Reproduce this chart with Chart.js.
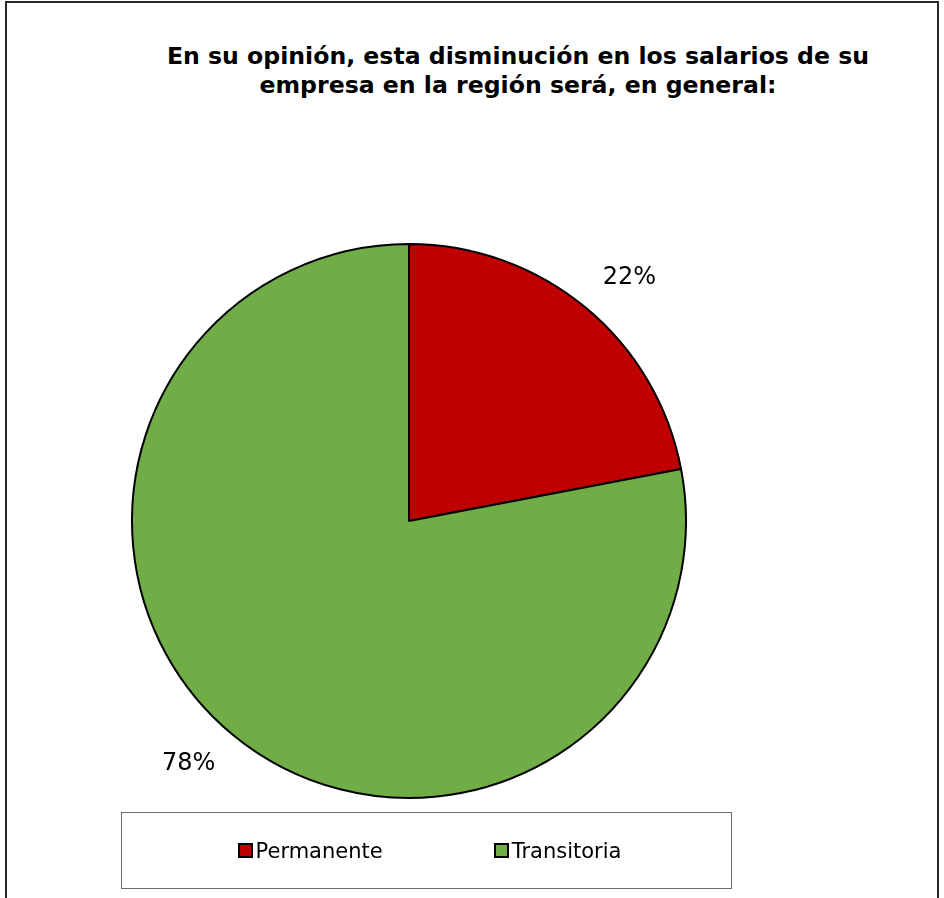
<!DOCTYPE html>
<html lang="es">
<head>
    <meta charset="UTF-8">
    <title>Disminución en los salarios</title>
    <style>
        * {
            margin: 0;
            padding: 0;
            box-sizing: border-box;
        }

        body {
            width: 944px;
            height: 898px;
            background: white;
            overflow: hidden;
            position: relative;
            font-family: "DejaVu Sans", Verdana, sans-serif;
        }

        .frame {
            position: absolute;
            left: 5px;
            top: 1px;
            width: 934px;
            height: 920px;
            border: 2px solid #262626;
        }

        .title {
            position: absolute;
            left: 98px;
            top: 42px;
            width: 840px;
            text-align: center;
            font-weight: bold;
            font-size: 23.6px;
            line-height: 29px;
            color: #000;
        }

        #pieChart {
            position: absolute;
            left: 0;
            top: 0;
        }

        #legend {
            position: absolute;
            left: 121px;
            top: 812px;
            width: 611px;
            height: 77px;
            border: 1px solid #6b6b6b;
            display: flex;
            align-items: center;
            justify-content: center;
            gap: 111px;
            padding-left: 6px;
            font-size: 21px;
            color: #000;
        }

        .legend-item {
            display: inline-flex;
            align-items: center;
        }

        .legend-box {
            width: 15px;
            height: 15px;
            border: 2px solid #000;
            margin-right: 3px;
        }
    </style>
</head>
<body>
    <div class="frame"></div>
    <div class="title">En su opinión, esta disminución en los salarios de su<br>empresa en la región será, en general:</div>
    <canvas id="pieChart" width="944" height="898"></canvas>
    <div id="legend"></div>

    <script src="https://cdn.jsdelivr.net/npm/chart.js"></script>
    <script>
        const categories = ['Permanente', 'Transitoria'];
        const percentages = [22, 78];
        const sliceColors = ['#C00000', '#70AD47'];

        // percentage labels just outside each slice, like Excel's "outside end"
        const outsideLabels = {
            id: 'outsideLabels',
            afterDatasetsDraw(chart) {
                const ctx = chart.ctx;
                const arcs = chart.getDatasetMeta(0).data;
                ctx.save();
                ctx.font = '24px "DejaVu Sans", Verdana, sans-serif';
                ctx.fillStyle = '#000';
                ctx.textAlign = 'center';
                ctx.textBaseline = 'middle';
                arcs.forEach((arc, i) => {
                    const p = arc.getProps(['x', 'y', 'startAngle', 'endAngle', 'outerRadius'], true);
                    const mid = (p.startAngle + p.endAngle) / 2;
                    const ux = Math.cos(mid);
                    const uy = Math.sin(mid);
                    const text = percentages[i] + '%';
                    const w = ctx.measureText(text).width;
                    const h = 18;
                    const r = p.outerRadius + 27;
                    const x = p.x + r * ux + Math.sign(ux) * w / 2;
                    const y = p.y + r * uy + Math.sign(uy) * h / 2;
                    ctx.fillText(text, x, y);
                });
                ctx.restore();
            }
        };

        const chart = new Chart(document.getElementById('pieChart'), {
            type: 'pie',
            data: {
                labels: categories,
                datasets: [{
                    data: percentages,
                    backgroundColor: sliceColors,
                    borderColor: '#000',
                    borderWidth: 2
                }]
            },
            options: {
                responsive: false,
                animation: false,
                layout: {
                    padding: { left: 131, right: 257, top: 243, bottom: 99 }
                },
                plugins: {
                    legend: { display: false },
                    tooltip: { enabled: false }
                }
            },
            plugins: [outsideLabels]
        });

        // legend built in html
        document.getElementById('legend').innerHTML = categories.map((name, i) => `
            <span class="legend-item">
                <span class="legend-box" style="background: ${sliceColors[i]};"></span>${name}
            </span>
        `).join('');
    </script>
</body>
</html>
